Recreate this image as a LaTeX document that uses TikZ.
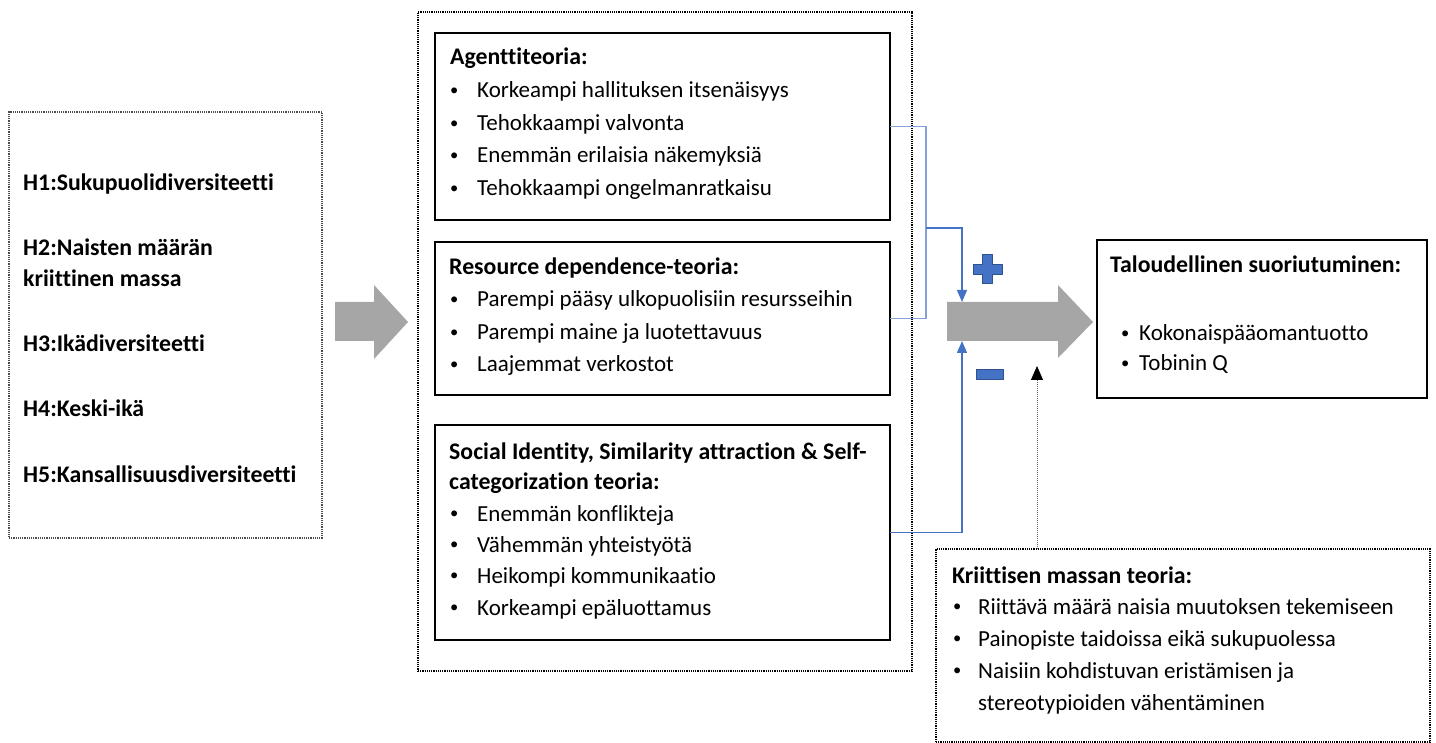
\documentclass[tikz,border=0pt]{standalone}
\usepackage{graphicx}
\usepackage{fontspec}
\setmainfont{Carlito}[Ligatures=NoCommon]
\usetikzlibrary{arrows.meta}
\definecolor{arrowgray}{RGB}{166,166,166}
\definecolor{linkblue}{RGB}{68,114,196}
\definecolor{bracketblue}{RGB}{132,160,214}
\definecolor{signedge}{RGB}{47,82,143}
\newcommand\itembul[1][28pt]{\makebox[#1][l]{\hspace{1pt}\raisebox{2.6pt}{\scalebox{0.72}{\textbullet}}}}

\begin{document}
\begin{tikzpicture}[x=1pt,y=-1pt,
  txt/.style={anchor=base west, inner sep=0pt, font=\fontsize{23}{28}\selectfont},
  hdr/.style={anchor=base west, inner sep=0pt, font=\bfseries\fontsize{23.8}{28}\selectfont},
  solidbox/.style={draw=black, line width=2pt, anchor=north west, inner sep=0pt, outer sep=0pt},
  dotbox/.style={draw=black, densely dotted, line width=1.2pt, anchor=north west, inner sep=0pt, outer sep=0pt},
  graybox/.style={dotbox, draw=black!70},
  bigarrow/.style={fill=arrowgray, draw=none},
  bracket/.style={draw=bracketblue, line width=1.2pt},
  link/.style={draw=linkblue, line width=1.2pt, -{Triangle[length=12pt,width=10pt]}},
  sign/.style={fill=linkblue, draw=signedge, line width=1pt, line join=round},
  effect/.style={draw=black!60, densely dotted, line width=1pt, -{Triangle[length=14pt,width=12pt,black]}}
]
\useasboundingbox (0,0) rectangle (1436,743);

% ---- hypotheses ----
\node[graybox, minimum width=313pt, minimum height=426pt] (hyp) at (9,112) {};
\node[hdr] (h1)  at (23,191) {H1:Sukupuolidiversiteetti};
\node[hdr] (h2a) at (23,256) {H2:Naisten määrän};
\node[hdr] (h2b) at (23,287) {kriittinen massa};
\node[hdr] (h3)  at (23,352) {H3:Ikädiversiteetti};
\node[hdr] (h4)  at (23,417) {H4:Keski-ikä};
\node[hdr] (h5)  at (23,482) {H5:Kansallisuusdiversiteetti};

% ---- arrow into the theories ----
\path[bigarrow] (335,302) -- (374,302) -- (374,285) -- (408,322) -- (374,359) -- (374,341) -- (335,341) -- cycle;

% ---- theories frame ----
\node[dotbox, minimum width=494pt, minimum height=659pt] (theories) at (418,12) {};

% agency theory
\node[solidbox, minimum width=455pt, minimum height=187pt] (agent) at (435,33) {};
\node[hdr] (ag0) at (450,65)  {Agenttiteoria:};
\node[txt] (ag1) at (449,98)  {\itembul Korkeampi hallituksen itsenäisyys};
\node[txt] (ag2) at (449,131) {\itembul Tehokkaampi valvonta};
\node[txt] (ag3) at (449,163) {\itembul Enemmän erilaisia näkemyksiä};
\node[txt] (ag4) at (449,196) {\itembul Tehokkaampi ongelmanratkaisu};

% resource dependence theory
\node[solidbox, minimum width=455pt, minimum height=153pt] (resource) at (435,242) {};
\node[hdr] (rs0) at (449,275) {Resource dependence-teoria:};
\node[txt] (rs1) at (449,307) {\itembul Parempi pääsy ulkopuolisiin resursseihin};
\node[txt] (rs2) at (449,340) {\itembul Parempi maine ja luotettavuus};
\node[txt] (rs3) at (449,372) {\itembul Laajemmat verkostot};

% social identity theories
\node[solidbox, minimum width=455pt, minimum height=215pt] (social) at (435,425) {};
\node[hdr] (so0) at (449,460) {Social Identity, Similarity attraction \& Self-};
\node[hdr] (so1) at (449,489) {categorization teoria:};
\node[txt] (so2) at (449,521) {\itembul Enemmän konflikteja};
\node[txt] (so3) at (449,552) {\itembul Vähemmän yhteistyötä};
\node[txt] (so4) at (449,583) {\itembul Heikompi kommunikaatio};
\node[txt] (so5) at (449,615) {\itembul Korkeampi epäluottamus};

% ---- main arrow towards performance ----
\path[bigarrow] (947,302) -- (1058,302) -- (1058,285) -- (1093,322) -- (1058,358) -- (1058,341) -- (947,341) -- cycle;
\coordinate (arrowtop) at (962,302);
\coordinate (arrowbot) at (962,341);

% plus and minus signs
\path[sign] (982.5,255) -- (992.5,255) -- (992.5,264.5) -- (1002,264.5) -- (1002,274.5) -- (992.5,274.5)
  -- (992.5,284) -- (982.5,284) -- (982.5,274.5) -- (973,274.5) -- (973,264.5) -- (982.5,264.5) -- cycle;
\path[sign] (976,370) rectangle (1003,380);

% ---- performance ----
\node[solidbox, minimum width=330pt, minimum height=158pt] (perf) at (1097,240) {};
\node[hdr] (pf0) at (1110,273) {Taloudellinen suoriutuminen:};
\node[txt] (pf1) at (1120,341) {\itembul[19pt]Kokonaispääomantuotto};
\node[txt] (pf2) at (1120,371) {\itembul[19pt]Tobinin Q};

% ---- critical mass theory ----
\node[dotbox, minimum width=494pt, minimum height=193pt] (crit) at (936,549) {};
\node[hdr] (cr0) at (952,583) {Kriittisen massan teoria:};
\node[txt] (cr1) at (952,614) {\itembul[26pt]Riittävä määrä naisia muutoksen tekemiseen};
\node[txt] (cr2) at (952,646) {\itembul[26pt]Painopiste taidoissa eikä sukupuolessa};
\node[txt] (cr3) at (952,678) {\itembul[26pt]Naisiin kohdistuvan eristämisen ja};
\node[txt] (cr4) at (978,710) {stereotypioiden vähentäminen};

% ---- connectors ----
\coordinate (bx) at (926,0);
\coordinate (bmid) at (926,228);
\draw[bracket] (agent.east) -- (agent.east -| bx) -- (resource.east -| bx) -- (resource.east);
\draw[link] (bmid) -| (arrowtop);
\draw[link] (social.east) -| (arrowbot);
\draw[effect] (crit.north -| 1037,0) -- (1037,366);
\end{tikzpicture}
\end{document}
